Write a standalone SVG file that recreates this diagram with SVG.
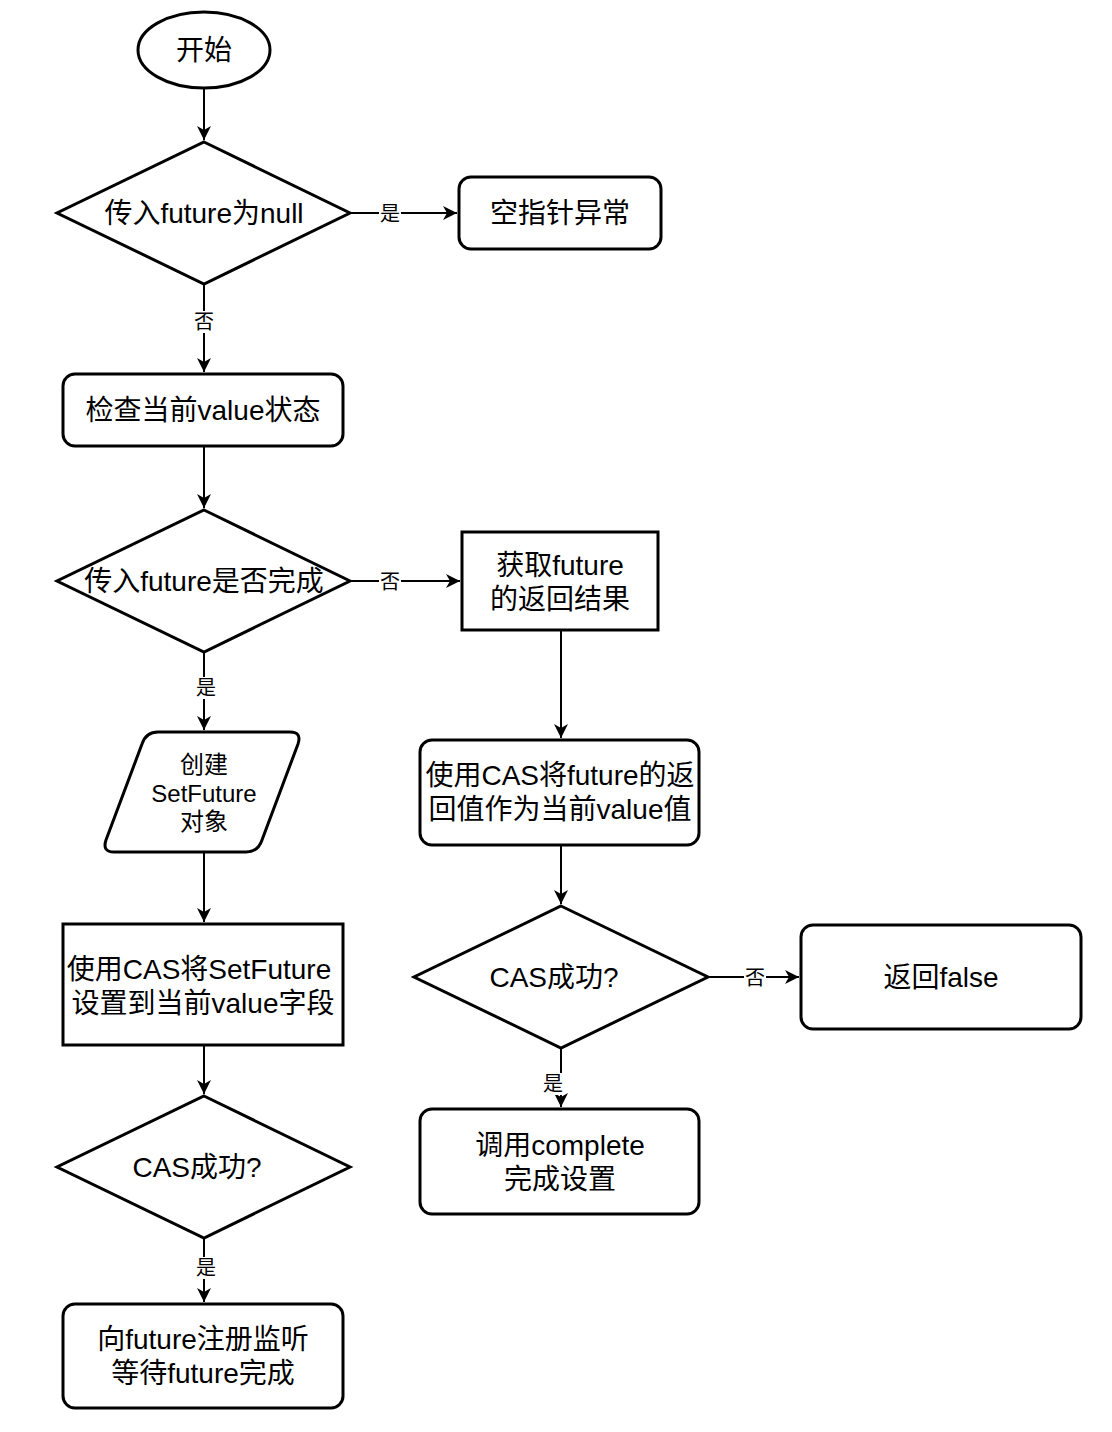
<svg xmlns="http://www.w3.org/2000/svg" width="1112" height="1432" viewBox="0 0 1112 1432">
<style>
.s{fill:#fff;stroke:#000;stroke-width:3}
.t{font-family:"Liberation Sans","Noto Sans CJK SC",sans-serif;font-size:28px;fill:#000;text-anchor:middle;dominant-baseline:central}
.p{font-size:24px}
.l{font-family:"Liberation Sans","Noto Sans CJK SC",sans-serif;font-size:20px;fill:#000;text-anchor:middle;dominant-baseline:central}
.c{fill:none;stroke:#000;stroke-width:2}
.bg{fill:#fff}
</style>
<defs>
<marker id="a" markerUnits="userSpaceOnUse" markerWidth="16" markerHeight="14" refX="14" refY="7" orient="auto">
<path d="M0,0 L14,7 L0,14 L4,7 Z" fill="#000"/>
</marker>
</defs>
<rect width="1112" height="1432" fill="#fff"/>
<g id="connectors">
<path class="c" d="M204,88 V140" marker-end="url(#a)"/>
<path class="c" d="M350,213 H457" marker-end="url(#a)"/>
<path class="c" d="M204,284 V372" marker-end="url(#a)"/>
<path class="c" d="M204,446 V508" marker-end="url(#a)"/>
<path class="c" d="M350,581 H460" marker-end="url(#a)"/>
<path class="c" d="M204,652 V730" marker-end="url(#a)"/>
<path class="c" d="M204,852 V922" marker-end="url(#a)"/>
<path class="c" d="M204,1045 V1094" marker-end="url(#a)"/>
<path class="c" d="M204,1238 V1302" marker-end="url(#a)"/>
<path class="c" d="M561,630 V738" marker-end="url(#a)"/>
<path class="c" d="M561,845 V904" marker-end="url(#a)"/>
<path class="c" d="M708,977 H799" marker-end="url(#a)"/>
<path class="c" d="M561,1048 V1107" marker-end="url(#a)"/>
<rect class="bg" x="379" y="202" width="22" height="22"/><text class="l" x="390" y="214">是</text>
<rect class="bg" x="193" y="311" width="22" height="22"/><text class="l" x="204" y="322">否</text>
<rect class="bg" x="379" y="570" width="22" height="22"/><text class="l" x="390" y="582">否</text>
<rect class="bg" x="195" y="677" width="22" height="22"/><text class="l" x="206" y="688">是</text>
<rect class="bg" x="195" y="1257" width="22" height="22"/><text class="l" x="206" y="1268">是</text>
<rect class="bg" x="744" y="966" width="22" height="22"/><text class="l" x="755" y="978">否</text>
<rect class="bg" x="542" y="1073" width="22" height="22"/><text class="l" x="553" y="1084">是</text>
</g>
<g id="start">
<ellipse class="s" cx="204" cy="50" rx="66" ry="38"/>
<text class="t" x="204" y="50">开始</text>
</g>
<g id="d1">
<polygon class="s" points="204,142 350,213 204,284 57,213"/>
<text class="t" x="204" y="213">传入future为null</text>
</g>
<g id="npe">
<rect class="s" x="459" y="177" width="202" height="72" rx="12"/>
<text class="t" x="560" y="213">空指针异常</text>
</g>
<g id="check">
<rect class="s" x="63" y="374" width="280" height="72" rx="12"/>
<text class="t" x="203" y="410">检查当前value状态</text>
</g>
<g id="d2">
<polygon class="s" points="204,510 350,581 204,652 57,581"/>
<text class="t" x="204" y="581">传入future是否完成</text>
</g>
<g id="get">
<rect class="s" x="462" y="532" width="196" height="98"/>
<text class="t" x="560" y="565">获取future</text>
<text class="t" x="560" y="599">的返回结果</text>
</g>
<g id="cas1">
<rect class="s" x="420" y="740" width="279" height="105" rx="12"/>
<text class="t" x="560" y="775">使用CAS将future的返</text>
<text class="t" x="560" y="809">回值作为当前value值</text>
</g>
<g id="d3">
<polygon class="s" points="561,906 708,977 561,1048 414,977"/>
<text class="t" x="554" y="977">CAS成功?</text>
</g>
<g id="retfalse">
<rect class="s" x="801" y="925" width="280" height="104" rx="12"/>
<text class="t" x="941" y="977">返回false</text>
</g>
<g id="complete">
<rect class="s" x="420" y="1109" width="279" height="105" rx="12"/>
<text class="t" x="560" y="1145">调用complete</text>
<text class="t" x="560" y="1179">完成设置</text>
</g>
<g id="create">
<path class="s" d="M158,732 H290 Q302,732 298,744 L262,840 Q258,852 246,852 H114 Q102,852 106,840 L142,744 Q146,732 158,732 Z"/>
<text class="t p" x="204" y="764">创建</text>
<text class="t p" x="204" y="793">SetFuture</text>
<text class="t p" x="204" y="821">对象</text>
</g>
<g id="cas2">
<rect class="s" x="63" y="924" width="280" height="121"/>
<text class="t" x="199" y="969">使用CAS将SetFuture</text>
<text class="t" x="203" y="1003">设置到当前value字段</text>
</g>
<g id="d4">
<polygon class="s" points="204,1096 350,1167 204,1238 57,1167"/>
<text class="t" x="197" y="1167">CAS成功?</text>
</g>
<g id="listen">
<rect class="s" x="63" y="1304" width="280" height="104" rx="12"/>
<text class="t" x="203" y="1339">向future注册监听</text>
<text class="t" x="203" y="1373">等待future完成</text>
</g>
</svg>
